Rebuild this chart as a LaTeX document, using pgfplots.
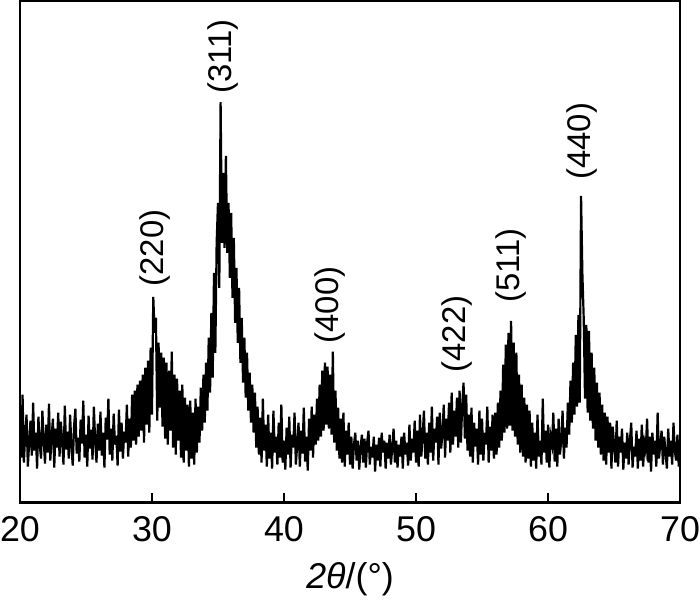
\documentclass[border=0pt]{standalone}
\usepackage{fontspec}
\setmainfont{Liberation Sans}
\usepackage{pgfplots}
\pgfplotsset{compat=1.18}
\tikzset{peak/.style={rotate=90, anchor=west, inner sep=0pt, font=\fontsize{16.5}{16.5}\selectfont}}

\begin{document}
\begin{tikzpicture}
\begin{axis}[
    width=330.5bp, height=251bp, scale only axis,
    xmin=20, xmax=70, ymin=0, ymax=502,
    xtick={20,30,40,50,60,70},
    ytick=\empty,
    xtick pos=bottom,
    tick align=inside,
    major tick length=5bp,
    tick style={line width=1bp, black},
    axis line style={line width=1.2bp},
    /pgf/number format/assume math mode=true,
    every tick label/.append style={font=\fontsize{18}{18}\selectfont},
    xticklabel style={yshift=-3.5bp, inner xsep=0pt},
    xlabel={{\itshape 2θ}/(°)},
    xlabel style={font=\fontsize{18}{18}\selectfont, yshift=-3.5bp, inner xsep=0pt},
]
\addplot[black, line width=1.1bp] coordinates {
(20.0,72) (20.1,45) (20.2,108) (20.3,40) (20.4,68) (20.5,88) (20.6,36) (20.7,60) (20.8,82) (20.9,47)
(21.0,100) (21.1,52) (21.2,70) (21.3,34) (21.4,86) (21.5,58) (21.6,44) (21.7,92) (21.8,63) (21.9,39)
(22.0,78) (22.1,50) (22.2,99) (22.3,42) (22.4,66) (22.5,84) (22.6,35) (22.7,74) (22.8,55) (22.9,90)
(23.0,46) (23.1,81) (23.2,62) (23.3,38) (23.4,97) (23.5,53) (23.6,71) (23.7,44) (23.8,88) (23.9,57)
(24.0,37) (24.1,76) (24.2,94) (24.3,49) (24.4,65) (24.5,41) (24.6,83) (24.7,59) (24.8,102) (24.9,45)
(25.0,68) (25.1,36) (25.2,87) (25.3,54) (25.4,73) (25.5,43) (25.6,96) (25.7,61) (25.8,40) (25.9,79)
(26.0,52) (26.1,91) (26.2,47) (26.3,70) (26.4,35) (26.5,85) (26.6,63) (26.7,104) (26.8,48) (26.9,74)
(27.0,42) (27.1,89) (27.2,58) (27.3,67) (27.4,37) (27.5,93) (27.6,51) (27.7,80) (27.8,44) (27.9,71)
(28.0,60) (28.1,98) (28.2,46) (28.3,84) (28.4,55) (28.5,108) (28.6,62) (28.7,112) (28.8,58) (28.9,118)
(29.0,66) (29.1,122) (29.2,72) (29.3,128) (29.4,60) (29.5,135) (29.6,78) (29.7,142) (29.8,70) (29.9,155)
(30.0,88) (30.1,206) (30.2,170) (30.3,185) (30.4,82) (30.5,160) (30.6,95) (30.7,150) (30.8,76) (30.9,145)
(31.0,64) (31.1,140) (31.2,58) (31.3,132) (31.4,72) (31.5,151) (31.6,55) (31.7,128) (31.8,48) (31.9,124)
(32.0,62) (32.1,112) (32.2,45) (32.3,118) (32.4,40) (32.5,105) (32.6,52) (32.7,98) (32.8,36) (32.9,102)
(33.0,44) (33.1,90) (33.2,38) (33.3,104) (33.4,50) (33.5,96) (33.6,60) (33.7,115) (33.8,72) (33.9,128)
(34.0,80) (34.1,140) (34.2,92) (34.3,165) (34.4,110) (34.5,190) (34.6,125) (34.7,230) (34.8,150) (34.9,260)
(35.0,300) (35.1,215) (35.2,401) (35.3,260) (35.4,330) (35.5,255) (35.6,347) (35.7,250) (35.8,300) (35.9,225)
(36.0,290) (36.1,205) (36.2,265) (36.3,180) (36.4,235) (36.5,160) (36.6,215) (36.7,140) (36.8,185) (36.9,120)
(37.0,165) (37.1,105) (37.2,150) (37.3,92) (37.4,130) (37.5,80) (37.6,118) (37.7,70) (37.8,110) (37.9,55)
(38.0,96) (38.1,48) (38.2,85) (38.3,40) (38.4,104) (38.5,52) (38.6,78) (38.7,36) (38.8,88) (38.9,44)
(39.0,70) (39.1,34) (39.2,92) (39.3,50) (39.4,66) (39.5,38) (39.6,80) (39.7,45) (39.8,98) (39.9,40)
(40.0,62) (40.1,33) (40.2,75) (40.3,48) (40.4,86) (40.5,35) (40.6,68) (40.7,55) (40.8,90) (40.9,38)
(41.0,58) (41.1,80) (41.2,36) (41.3,72) (41.4,49) (41.5,95) (41.6,41) (41.7,66) (41.8,32) (41.9,84)
(42.0,52) (42.1,96) (42.2,45) (42.3,88) (42.4,58) (42.5,104) (42.6,62) (42.7,118) (42.8,66) (42.9,132)
(43.0,72) (43.1,140) (43.2,78) (43.3,136) (43.4,74) (43.5,128) (43.6,68) (43.7,151) (43.8,60) (43.9,112)
(44.0,52) (44.1,95) (44.2,44) (44.3,84) (44.4,40) (44.5,90) (44.6,36) (44.7,72) (44.8,48) (44.9,80)
(45.0,38) (45.1,66) (45.2,34) (45.3,58) (45.4,70) (45.5,42) (45.6,62) (45.7,33) (45.8,55) (45.9,68)
(46.0,40) (46.1,64) (46.2,35) (46.3,60) (46.4,72) (46.5,38) (46.6,56) (46.7,45) (46.8,66) (46.9,31)
(47.0,58) (47.1,42) (47.2,65) (47.3,36) (47.4,70) (47.5,50) (47.6,62) (47.7,34) (47.8,60) (47.9,44)
(48.0,68) (48.1,38) (48.2,55) (48.3,74) (48.4,40) (48.5,62) (48.6,35) (48.7,58) (48.8,46) (48.9,66)
(49.0,34) (49.1,70) (49.2,48) (49.3,60) (49.4,37) (49.5,78) (49.6,42) (49.7,64) (49.8,50) (49.9,82)
(50.0,40) (50.1,72) (50.2,36) (50.3,88) (50.4,46) (50.5,66) (50.6,92) (50.7,44) (50.8,70) (50.9,38)
(51.0,80) (51.1,50) (51.2,96) (51.3,42) (51.4,74) (51.5,60) (51.6,86) (51.7,38) (51.8,90) (51.9,54)
(52.0,68) (52.1,98) (52.2,45) (52.3,84) (52.4,62) (52.5,100) (52.6,50) (52.7,110) (52.8,58) (52.9,92)
(53.0,66) (53.1,105) (53.2,55) (53.3,112) (53.4,60) (53.5,98) (53.6,120) (53.7,64) (53.8,108) (53.9,52)
(54.0,88) (54.1,46) (54.2,95) (54.3,40) (54.4,80) (54.5,56) (54.6,74) (54.7,38) (54.8,92) (54.9,48)
(55.0,84) (55.1,42) (55.2,70) (55.3,58) (55.4,96) (55.5,40) (55.6,76) (55.7,52) (55.8,88) (55.9,44)
(56.0,90) (56.1,48) (56.2,100) (56.3,55) (56.4,112) (56.5,62) (56.6,138) (56.7,70) (56.8,158) (56.9,74)
(57.0,170) (57.1,77) (57.2,182) (57.3,72) (57.4,160) (57.5,66) (57.6,150) (57.7,58) (57.8,128) (57.9,50)
(58.0,118) (58.1,46) (58.2,105) (58.3,40) (58.4,98) (58.5,44) (58.6,92) (58.7,36) (58.8,80) (58.9,42)
(59.0,70) (59.1,34) (59.2,88) (59.3,46) (59.4,62) (59.5,38) (59.6,104) (59.7,50) (59.8,72) (59.9,40)
(60.0,78) (60.1,35) (60.2,66) (60.3,58) (60.4,90) (60.5,41) (60.6,74) (60.7,36) (60.8,84) (60.9,48)
(61.0,62) (61.1,92) (61.2,44) (61.3,75) (61.4,55) (61.5,100) (61.6,68) (61.7,122) (61.8,80) (61.9,140)
(62.0,88) (62.1,168) (62.2,96) (62.3,188) (62.4,100) (62.5,307) (62.6,229) (62.7,185) (62.8,104) (62.9,178)
(63.0,90) (63.1,172) (63.2,82) (63.3,150) (63.4,74) (63.5,135) (63.6,62) (63.7,120) (63.8,55) (63.9,110)
(64.0,48) (64.1,98) (64.2,42) (64.3,90) (64.4,38) (64.5,86) (64.6,50) (64.7,80) (64.8,34) (64.9,76)
(65.0,58) (65.1,40) (65.2,82) (65.3,36) (65.4,66) (65.5,50) (65.6,74) (65.7,33) (65.8,60) (65.9,44)
(66.0,70) (66.1,38) (66.2,62) (66.3,80) (66.4,35) (66.5,56) (66.6,46) (66.7,72) (66.8,34) (66.9,64)
(67.0,42) (67.1,78) (67.2,36) (67.3,60) (67.4,52) (67.5,84) (67.6,40) (67.7,66) (67.8,31) (67.9,70)
(68.0,48) (68.1,62) (68.2,36) (68.3,90) (68.4,44) (68.5,58) (68.6,72) (68.7,38) (68.8,66) (68.9,50)
(69.0,34) (69.1,74) (69.2,46) (69.3,62) (69.4,38) (69.5,80) (69.6,52) (69.7,42) (69.8,68) (69.9,36)
(70.0,60)
};
\node[peak] at (axis cs:30.25,216) {(220)};
\node[peak] at (axis cs:35.35,409) {(311)};
\node[peak] at (axis cs:43.45,159) {(400)};
\node[peak] at (axis cs:53.1,130) {(422)};
\node[peak] at (axis cs:57.2,200) {(511)};
\node[peak] at (axis cs:62.55,323) {(440)};
\end{axis}
\end{tikzpicture}
\end{document}
